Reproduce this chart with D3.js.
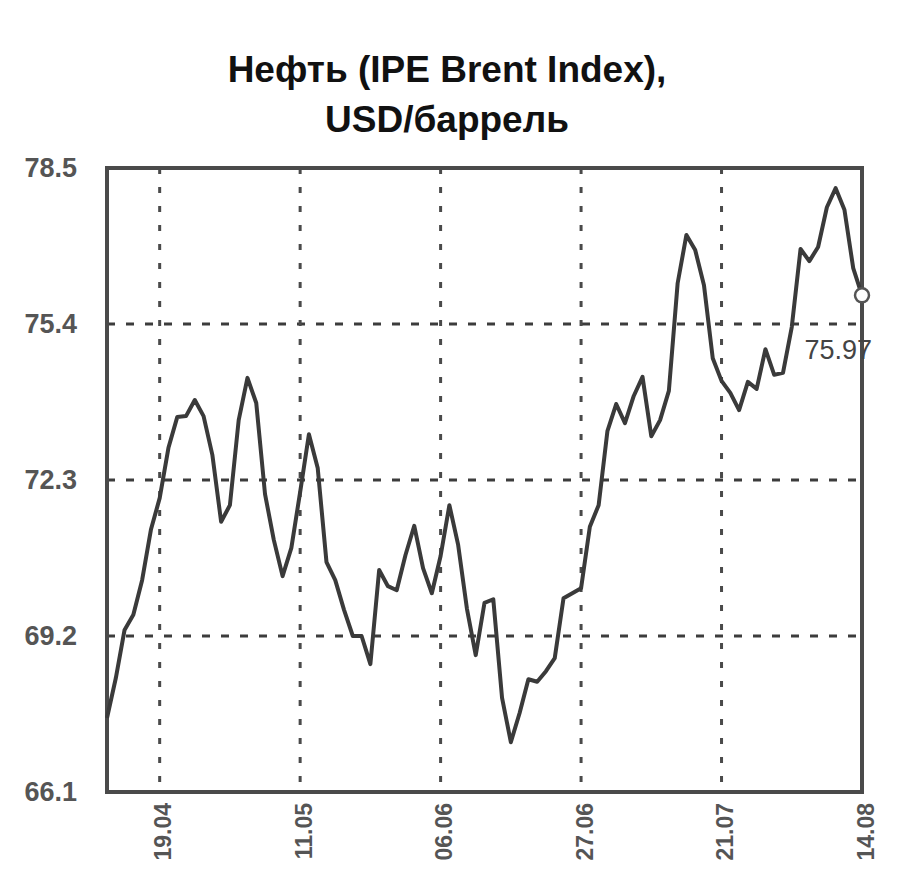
<!DOCTYPE html>
<html>
<head>
<meta charset="utf-8">
<script src="https://cdn.jsdelivr.net/npm/d3@7"></script>
<style>
  body { margin: 0; background: #fff; }
  text { font-family: "Liberation Sans", Arial, sans-serif; }
</style>
</head>
<body>
<script>

const titleLines = ["Нефть (IPE Brent Index),", "USD/баррель"];

// daily closes, USD per barrel
const prices = [
    67.57, 68.36, 69.32, 69.62, 70.31, 71.31, 71.94, 72.94, 73.55, 73.57,
    73.89, 73.57, 72.80, 71.47, 71.80, 73.49, 74.33, 73.83, 72.02, 71.11,
    70.39, 70.95, 72.06, 73.21, 72.54, 70.67, 70.31, 69.72, 69.20, 69.20,
    68.64, 70.51, 70.19, 70.11, 70.81, 71.39, 70.55, 70.05, 70.79, 71.80,
    71.01, 69.74, 68.82, 69.86, 69.93, 67.97, 67.09, 67.67, 68.34, 68.29,
    68.50, 68.76, 69.95, 70.05, 70.15, 71.37, 71.80, 73.27, 73.81, 73.43,
    73.97, 74.35, 73.17, 73.49, 74.07, 76.21, 77.17, 76.87, 76.17, 74.72,
    74.27, 74.03, 73.69, 74.25, 74.11, 74.90, 74.39, 74.43, 75.34, 76.89,
    76.65, 76.93, 77.72, 78.10, 77.67, 76.51, 75.97
];

const dateLabels = ["19.04", "11.05", "06.06", "27.06", "21.07", "14.08"];
const dateIndex = [6, 22, 38, 54, 70, 86];

const yTicks = [66.1, 69.2, 72.3, 75.4, 78.5];

window.onload = function(){

    const width = 900;
    const height = 882;
    const left = 107, right = 862, top = 168, bottom = 792;

    const xScale = d3.scaleLinear()
        .domain([0, prices.length - 1])
        .range([left, right]);

    const yScale = d3.scaleLinear()
        .domain([66.1, 78.5])
        .range([bottom, top]);

    let svg = d3.select('body')
        .append('svg')
            .attr('width', width)
            .attr('height', height);

    // title
    svg.append('text')
        .attr('text-anchor', 'middle')
        .attr('font-weight', 'bold')
        .attr('font-size', 37)
        .attr('fill', '#111')
        .selectAll('tspan')
        .data(titleLines)
        .enter()
            .append('tspan')
                .attr('x', 447)
                .attr('y', (d, i) => 82 + i * 50)
                .text(d => d);

    // grid
    svg.append('g')
        .selectAll('line')
        .data(yTicks.slice(1, -1))
        .enter()
            .append('line')
                .attr('x1', left).attr('x2', right)
                .attr('y1', d => yScale(d)).attr('y2', d => yScale(d))
                .attr('stroke', '#3c3c3c')
                .attr('stroke-width', 3)
                .attr('stroke-dasharray', '8,11');

    svg.append('g')
        .selectAll('line')
        .data(dateIndex.slice(0, -1))
        .enter()
            .append('line')
                .attr('x1', d => xScale(d)).attr('x2', d => xScale(d))
                .attr('y1', top).attr('y2', bottom)
                .attr('stroke', '#4a4a4a')
                .attr('stroke-width', 3)
                .attr('stroke-dasharray', '6,13');

    // y axis labels
    const yAxis = svg.append('g')
        .attr('transform', `translate(${left},0)`)
        .call(d3.axisLeft(yScale).tickValues(yTicks).tickFormat(d3.format('.1f')).tickSize(0).tickPadding(30));
    yAxis.select('.domain').remove();
    yAxis.selectAll('text')
        .attr('font-family', '"Liberation Sans", Arial, sans-serif')
        .attr('font-size', 27)
        .attr('font-weight', 'bold')
        .attr('fill', '#555');

    // x axis labels, rotated
    const xAxis = svg.append('g')
        .attr('transform', `translate(0,${bottom})`)
        .call(d3.axisBottom(xScale).tickValues(dateIndex).tickFormat((d, i) => dateLabels[i]).tickSize(0));
    xAxis.select('.domain').remove();
    xAxis.selectAll('text')
        .attr('font-family', '"Liberation Sans", Arial, sans-serif')
        .attr('font-size', 23)
        .attr('font-weight', 'bold')
        .attr('fill', '#555')
        .attr('text-anchor', 'end')
        .attr('dy', '0.35em')
        .attr('transform', 'translate(3,10) rotate(-90)')
        .attr('x', -1)
        .attr('y', 0);

    // frame
    svg.append('rect')
        .attr('x', left).attr('y', top)
        .attr('width', right - left).attr('height', bottom - top)
        .attr('fill', 'none')
        .attr('stroke', '#4a4a4a')
        .attr('stroke-width', 4);

    // price line
    const line = d3.line()
        .x((d, i) => xScale(i))
        .y(d => yScale(d));

    svg.append('path')
        .datum(prices)
        .attr('d', line)
        .attr('fill', 'none')
        .attr('stroke', '#3a3a3a')
        .attr('stroke-width', 4)
        .attr('stroke-linejoin', 'round');

    // last value marker
    const last = prices.length - 1;
    svg.append('circle')
        .attr('cx', xScale(last))
        .attr('cy', yScale(prices[last]))
        .attr('r', 7)
        .attr('fill', '#fff')
        .attr('stroke', '#555')
        .attr('stroke-width', 2.5);

    svg.append('text')
        .attr('x', xScale(last) + 10)
        .attr('y', yScale(prices[last]) + 64)
        .attr('text-anchor', 'end')
        .attr('font-size', 27)
        .attr('fill', '#444')
        .text(prices[last].toFixed(2));

};
</script>
</body>
</html>
